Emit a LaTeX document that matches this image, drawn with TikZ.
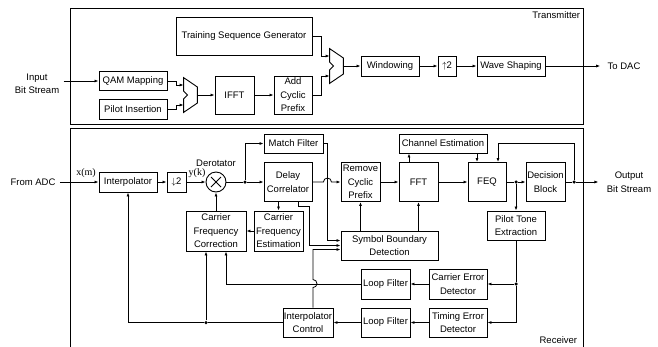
\documentclass[tikz,border=0pt]{standalone}
\usepackage{fontspec}
\setmainfont{Liberation Sans}
\newfontfamily\timesfont{Liberation Serif}
\usetikzlibrary{arrows.meta}

\newcommand{\muxshape}[1]{\draw[line width=0.9pt] (#1.north west) -- ([yshift=8pt]#1.east)
  -- ([yshift=-8pt]#1.east) -- (#1.south west) -- ([yshift=-4pt]#1.west)
  -- ([xshift=4pt]#1.west) -- ([yshift=4pt]#1.west) -- cycle;}

\begin{document}
\begin{tikzpicture}[x=1pt, y=-1pt, line width=0.8pt,
    every node/.style={font=\fontsize{9.5}{13.5}\selectfont, inner sep=0.5pt},
    blk/.style={rectangle, draw, line width=0.9pt, align=center},
    io/.style={align=center, inner xsep=4pt},
    arr/.style={-{Latex[length=4pt,width=3pt]}},
    dot/.style={circle, fill, inner sep=0pt, minimum size=3.5pt},
    mux/.style={inner sep=0pt, minimum width=13pt, minimum height=34pt}
    ]
    \useasboundingbox (0,0) rectangle (658,346);

    % transmitter
    \draw[line width=0.9pt] (70,8) rectangle (583,124);
    \node[anchor=north east] (txlabel) at (581,11) {Transmitter};

    \node[io] (input) at (37,84) {Input\\Bit Stream};
    \node[blk, minimum width=136pt, minimum height=38pt] (tsg) at (244,36) {Training Sequence Generator};
    \node[blk, minimum width=68pt, minimum height=19pt] (qam) at (133,81) {QAM Mapping};
    \node[blk, minimum width=68pt, minimum height=20pt] (pilot) at (133,109) {Pilot Insertion};
    \node[mux] (mux1) at (190.5,95) {};
    \muxshape{mux1}
    \node[blk, minimum width=39pt, minimum height=38pt] (ifft) at (234.5,95) {IFFT};
    \node[blk, minimum width=38pt, minimum height=38pt] (acp) at (293,95) {Add\\Cyclic\\Prefix};
    \node[mux] (mux2) at (336.5,66) {};
    \muxshape{mux2}
    \node[blk, minimum width=58pt, minimum height=20pt] (win) at (390,66) {Windowing};
    \node[blk, minimum width=18pt, minimum height=20pt] (up2) at (447,66) {$\uparrow$2};
    \node[blk, minimum width=68pt, minimum height=20pt] (wave) at (511,66) {Wave Shaping};
    \node[io] (todac) at (624,66) {To DAC};

    \draw[arr] (input.east |- qam.west) -- (qam.west);
    \draw[arr] (qam.east) -- ++(9,0) |- ([yshift=10pt]mux1.west);
    \draw[arr] (pilot.east) -- ++(9,0) |- ([yshift=-10pt]mux1.west);
    \draw[arr] (mux1.east) -- (ifft.west);
    \draw[arr] (ifft) -- (acp);
    \draw[arr] (tsg.east) -- ++(9,0) |- ([yshift=10pt]mux2.west);
    \draw[arr] (acp.east) -- ++(9,0) |- ([yshift=-10pt]mux2.west);
    \draw[arr] (mux2.east) -- (win.west);
    \draw[arr] (win) -- (up2);
    \draw[arr] (up2) -- (wave);
    \draw[arr] (wave.east) -- ([xshift=-3pt]todac.west);

    % receiver
    \draw[line width=0.9pt] (70,128) rectangle (583,352);
    \node[anchor=south east] (rxlabel) at (578,344) {Receiver};

    \node[io] (fromadc) at (33,182) {From ADC};
    \node (xm) at (86,173) {\timesfont\fontsize{10}{12}\selectfont x(m)};
    \node[blk, minimum width=58pt, minimum height=20pt] (interp) at (128,182) {Interpolator};
    \node[blk, minimum width=19pt, minimum height=20pt] (down2) at (176.5,182) {$\downarrow$2};
    \node (yk) at (197,173) {\timesfont\fontsize{10}{12}\selectfont y(k)};
    \node[circle, draw, line width=0.9pt, minimum size=20pt, inner sep=0pt] (derot) at (216,182) {};
    \draw[line width=0.9pt] ([shift={(-5pt,-5pt)}]derot.center) -- ([shift={(5pt,5pt)}]derot.center)
      ([shift={(-5pt,5pt)}]derot.center) -- ([shift={(5pt,-5pt)}]derot.center);
    \node (derotlbl) at (216,163) {Derotator};
    \node[dot] (j1) at (245,182) {};
    \node[blk, minimum width=59pt, minimum height=19pt] (mf) at (293.5,143.5) {Match Filter};
    \node[blk, minimum width=48pt, minimum height=39pt] (dc) at (288,182) {Delay\\Correlator};
    \node[blk, minimum width=49pt, minimum height=40pt] (cfe) at (278.5,231) {Carrier\\Frequency\\Estimation};
    \node[blk, minimum width=60pt, minimum height=40pt] (cfc) at (216,231) {Carrier\\Frequency\\Correction};
    \node[blk, minimum width=39pt, minimum height=39pt] (rcp) at (360.5,182) {Remove\\Cyclic\\Prefix};
    \node[blk, minimum width=39pt, minimum height=39pt] (fft) at (418.5,182) {FFT};
    \node[blk, minimum width=88pt, minimum height=19pt] (ce) at (443,143.5) {Channel Estimation};
    \node[blk, minimum width=38pt, minimum height=39pt] (feq) at (487,182) {FEQ};
    \node[dot] (j2) at (516,182) {};
    \node[blk, minimum width=39pt, minimum height=39pt] (db) at (545.5,182) {Decision\\Block};
    \node[dot] (j3) at (574,182) {};
    \node[io] (out) at (629,182) {Output\\Bit Stream};
    \node[blk, minimum width=58pt, minimum height=29pt] (pte) at (516,225.5) {Pilot Tone\\Extraction};
    \node[blk, minimum width=97pt, minimum height=29pt] (sbd) at (389.5,245.5) {Symbol Boundary\\Detection};
    \node[dot] (j4) at (516,284) {};
    \node[blk, minimum width=58pt, minimum height=30pt] (ced) at (458,284) {Carrier Error\\Detector};
    \node[blk, minimum width=49pt, minimum height=30pt] (lf1) at (385.5,284) {Loop Filter};
    \node[blk, minimum width=58pt, minimum height=29pt] (ted) at (458,322.5) {Timing Error\\Detector};
    \node[blk, minimum width=49pt, minimum height=29pt] (lf2) at (385.5,322.5) {Loop Filter};
    \node[blk, minimum width=50pt, minimum height=29pt] (ic) at (308,322.5) {Interpolator\\Control};
    \node[dot] (j5) at (206,322.5) {};
    \coordinate (mfx) at ([xshift=4pt]mf.east);

    \draw[arr] (fromadc.east) -- (interp.west);
    \draw[arr] (interp) -- (down2);
    \draw[arr] (down2) -- (derot);
    \draw (derot) -- (j1);
    \draw[arr] (j1) -- (dc.west);
    \draw[arr] (j1) |- (mf.west);
    \draw[arr] (dc.south -| cfe.north) -- (cfe.north);
    \draw[arr] (cfe.west) -- (cfc.east);
    \draw[arr] (cfc.north) -- (derot.south);
    \draw[arr] (dc.east) -- ([xshift=-4pt]mfx |- dc.east) arc[start angle=180, end angle=0, radius=4pt] -- (rcp.west);
    \draw[arr] (mf.east) -- (mfx) |- ([yshift=5pt]sbd.west);
    \draw[arr] ([xshift=10pt]dc.south) -- ++(0,4) -- ++(11,0) |- (sbd.west);
    \draw[arr] ([xshift=5pt]ic.north) -- ++(0,-20) arc[start angle=-90, end angle=90, radius=4pt] |- ([yshift=-4pt]sbd.west);
    \draw[arr] (rcp.south |- sbd.north) -- (rcp.south);
    \draw[arr] (fft.south |- sbd.north) -- (fft.south);
    \draw[arr] (rcp) -- (fft);
    \draw[arr] (fft) -- (feq);
    \draw[arr] ([xshift=-9.5pt]fft.north) -- ([xshift=-9.5pt]fft.north |- ce.south);
    \draw[arr] ([xshift=-10pt]feq.north |- ce.south) -- ([xshift=-10pt]feq.north);
    \draw (feq) -- (j2);
    \draw[arr] (j2) -- (db);
    \draw[arr] (j2) -- (pte);
    \draw (db) -- (j3);
    \draw[arr] (j3) -- ([xshift=-4pt]out.west);
    \draw[arr] (j3) -- ++(0,-39) -| ([xshift=11pt]feq.north);
    \draw (pte) -- (j4);
    \draw[arr] (j4) -- (ced);
    \draw[arr] (j4) |- (ted);
    \draw[arr] (ced) -- (lf1);
    \draw[arr] (ted) -- (lf2);
    \draw[arr] (lf2) -- (ic);
    \draw[arr] (lf1.west) -| ([xshift=10pt]cfc.south);
    \draw (ic.west) -- (j5);
    \draw[arr] (j5) -- (j5 |- cfc.south);
    \draw[arr] (j5) -| (interp.south);
\end{tikzpicture}
\end{document}
